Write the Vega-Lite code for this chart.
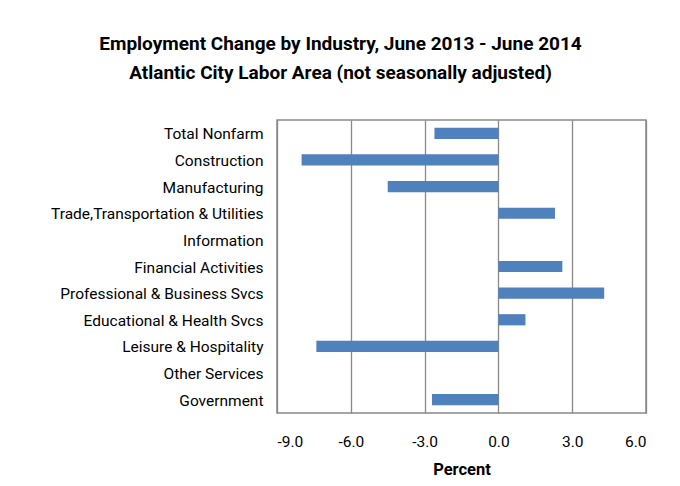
{
  "$schema": "https://vega.github.io/schema/vega-lite/v6.json",
  "autosize": {"type": "none"},
  "width": 369,
  "height": 293,
  "padding": {"left": 277, "top": 120, "right": 34, "bottom": 73},
  "background": "white",
  "title": {
    "text": ["Employment Change by Industry, June 2013 - June 2014", "Atlantic City Labor Area (not seasonally adjusted)"],
    "anchor": "middle",
    "frame": "group",
    "dx": -121,
    "offset": 37,
    "font": "Roboto",
    "fontSize": 19,
    "fontWeight": "bold",
    "lineHeight": 29,
    "color": "#000000"
  },
  "data": {
    "values": [
      {"industry": "Total Nonfarm", "pct": -2.6},
      {"industry": "Construction", "pct": -8.0},
      {"industry": "Manufacturing", "pct": -4.5},
      {"industry": "Trade,Transportation & Utilities", "pct": 2.3},
      {"industry": "Information", "pct": null},
      {"industry": "Financial Activities", "pct": 2.6},
      {"industry": "Professional & Business Svcs", "pct": 4.3},
      {"industry": "Educational & Health Svcs", "pct": 1.1},
      {"industry": "Leisure & Hospitality", "pct": -7.4},
      {"industry": "Other Services", "pct": null},
      {"industry": "Government", "pct": -2.7}
    ]
  },
  "mark": {"type": "bar", "color": "#4F81BD"},
  "encoding": {
    "y": {
      "field": "industry",
      "type": "nominal",
      "sort": null,
      "scale": {
        "domain": ["Total Nonfarm", "Construction", "Manufacturing", "Trade,Transportation & Utilities", "Information", "Financial Activities", "Professional & Business Svcs", "Educational & Health Svcs", "Leisure & Hospitality", "Other Services", "Government"],
        "paddingInner": 0.58,
        "paddingOuter": 0.29
      },
      "axis": {
        "title": null,
        "ticks": false,
        "domain": false,
        "labelPadding": 14,
        "labelFont": "Roboto",
        "labelFontSize": 15.5,
        "labelColor": "#000000",
        "labelLimit": 300,
        "labelOffset": 1
      }
    },
    "x": {
      "field": "pct",
      "type": "quantitative",
      "scale": {"domain": [-9, 6], "nice": false},
      "axis": {
        "title": "Percent",
        "values": [-9, -6, -3, 0, 3, 6],
        "labelExpr": "replace(format(datum.value, '.1f'), '\u2212', '-')",
        "ticks": false,
        "domain": false,
        "grid": true,
        "gridColor": "#898989",
        "gridWidth": 1.3,
        "gridOpacity": 1,
        "labelPadding": 21,
        "labelFont": "Roboto",
        "labelFontSize": 15.5,
        "labelColor": "#000000",
        "titleFont": "Roboto",
        "titleFontSize": 16.5,
        "titleFontWeight": "bold",
        "titleColor": "#000000",
        "titlePadding": 12
      }
    }
  },
  "config": {
    "view": {"stroke": "#898989", "strokeWidth": 1.5}
  }
}
